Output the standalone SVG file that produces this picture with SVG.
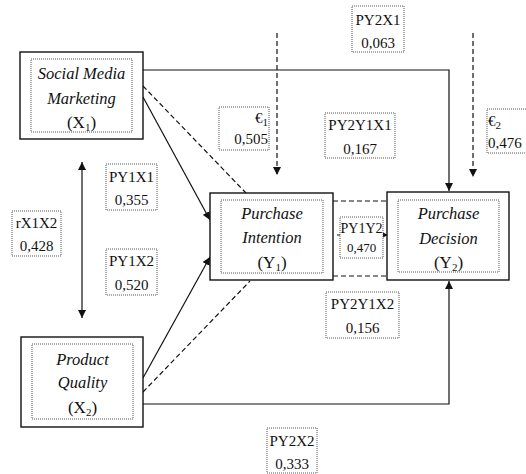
<svg xmlns="http://www.w3.org/2000/svg" width="526" height="474" viewBox="0 0 526 474">
  <style>
    .outer { fill: #fff; stroke: #111; stroke-width: 1.4; }
    .inner { fill: none; stroke: #444; stroke-width: 0.9; stroke-dasharray: 1 1; }
    .lbl { fill: #fff; stroke: #444; stroke-width: 0.9; stroke-dasharray: 1 1; }
    text { font-family: "Liberation Serif", Tinos, "Times New Roman", Times, "Noto Serif", "DejaVu Serif", FreeSerif, serif; fill: #111; text-anchor: middle; }
    .name { font-size: 16.5px; font-style: italic; }
    .var { font-size: 17px; }
    .coef { font-size: 15px; }
    .end { text-anchor: end; }
    .start { text-anchor: start; }
    .solid { fill: none; stroke: #111; stroke-width: 1.2; }
    .dash { fill: none; stroke: #111; stroke-width: 1.2; stroke-dasharray: 5 3; }
    .sub { font-size: 11px; }
  </style>
  <defs>
    <marker id="head" viewBox="0 0 10 10" refX="10" refY="5" markerWidth="8" markerHeight="8" markerUnits="userSpaceOnUse" orient="auto">
      <path d="M0,0 L10,5 L0,10 z" fill="#111"/>
    </marker>
    <marker id="tail" viewBox="0 0 10 10" refX="0" refY="5" markerWidth="8" markerHeight="8" markerUnits="userSpaceOnUse" orient="auto">
      <path d="M10,0 L0,5 L10,10 z" fill="#111"/>
    </marker>
  </defs>

  <!-- connectors -->
  <g id="connectors">
    <path class="solid" d="M143,70 H449 V191" marker-end="url(#head)"/>
    <path class="solid" d="M143,404 H449 V281" marker-end="url(#head)"/>
    <line class="solid" x1="143" y1="97" x2="210" y2="220" marker-end="url(#head)"/>
    <line class="solid" x1="143" y1="378" x2="210" y2="257" marker-end="url(#head)"/>
    <line class="dash" x1="143" y1="86" x2="246" y2="193"/>
    <line class="dash" x1="143" y1="392" x2="250" y2="281"/>
    <line class="dash" x1="333" y1="201" x2="388" y2="201"/>
    <line class="dash" x1="333" y1="276" x2="388" y2="276"/>
    <line class="solid" x1="337" y1="235" x2="388" y2="235" marker-end="url(#head)"/>
    <line class="dash" x1="277" y1="33" x2="277" y2="175" marker-end="url(#head)"/>
    <line class="dash" x1="473" y1="33" x2="473" y2="177" marker-end="url(#head)"/>
    <line class="solid" x1="82" y1="162" x2="82" y2="318" marker-start="url(#tail)" marker-end="url(#head)"/>
  </g>

  <!-- constructs -->
  <g id="x1">
    <rect class="outer" x="20" y="52" width="123" height="87"/>
    <rect class="inner" x="31" y="59" width="101" height="73"/>
    <text class="name" x="81.5" y="79">Social Media</text>
    <text class="name" x="81.5" y="104">Marketing</text>
    <text class="var" x="81.5" y="128">(X<tspan class="sub" dy="3">1</tspan><tspan dy="-3">)</tspan></text>
  </g>
  <g id="x2">
    <rect class="outer" x="21" y="337" width="122" height="90"/>
    <rect class="inner" x="32" y="344" width="101" height="75"/>
    <text class="name" x="82.5" y="365">Product</text>
    <text class="name" x="82.5" y="388">Quality</text>
    <text class="var" x="82.5" y="413">(X<tspan class="sub" dy="3">2</tspan><tspan dy="-3">)</tspan></text>
  </g>
  <g id="y1">
    <rect class="outer" x="210" y="193" width="123" height="87"/>
    <rect class="inner" x="221" y="200" width="102" height="73"/>
    <text class="name" x="272" y="219">Purchase</text>
    <text class="name" x="272" y="243">Intention</text>
    <text class="var" x="272" y="268">(Y<tspan class="sub" dy="3">1</tspan><tspan dy="-3">)</tspan></text>
  </g>
  <g id="y2">
    <rect class="outer" x="387" y="192" width="122" height="88"/>
    <rect class="inner" x="398" y="200" width="101" height="72"/>
    <text class="name" x="448.5" y="219">Purchase</text>
    <text class="name" x="448.5" y="244">Decision</text>
    <text class="var" x="448.5" y="268">(Y<tspan class="sub" dy="3">2</tspan><tspan dy="-3">)</tspan></text>
  </g>

  <!-- path coefficients -->
  <g id="py2x1">
    <rect class="lbl" x="352" y="6" width="52" height="46"/>
    <text class="coef" x="378" y="25">PY2X1</text>
    <text class="coef" x="378" y="48">0,063</text>
  </g>
  <g id="e1">
    <rect class="lbl" x="219" y="107" width="50" height="43"/>
    <text class="coef end" x="268" y="123">€<tspan class="sub" dy="3">1</tspan></text>
    <text class="coef end" x="268" y="144">0,505</text>
  </g>
  <g id="py2y1x1">
    <rect class="lbl" x="325" y="113" width="70" height="45"/>
    <text class="coef" x="360" y="130">PY2Y1X1</text>
    <text class="coef" x="360" y="154">0,167</text>
  </g>
  <g id="e2">
    <rect class="lbl" x="487" y="109" width="40" height="44"/>
    <text class="coef start" x="488" y="126">€<tspan class="sub" dy="3">2</tspan></text>
    <text class="coef start" x="488" y="148">0,476</text>
  </g>
  <g id="rx1x2">
    <rect class="lbl" x="12" y="211" width="49" height="45"/>
    <text class="coef" x="36.5" y="228">rX1X2</text>
    <text class="coef" x="36.5" y="251">0,428</text>
  </g>
  <g id="py1x1">
    <rect class="lbl" x="106" y="164" width="51" height="46"/>
    <text class="coef" x="131.5" y="182">PY1X1</text>
    <text class="coef" x="131.5" y="205">0,355</text>
  </g>
  <g id="py1x2">
    <rect class="lbl" x="106" y="249" width="51" height="46"/>
    <text class="coef" x="131.5" y="266">PY1X2</text>
    <text class="coef" x="131.5" y="290">0,520</text>
  </g>
  <g id="py1y2">
    <rect class="lbl" x="340" y="217" width="43" height="41"/>
    <text class="coef" x="361.5" y="233" style="font-size:14px">PY1Y2</text>
    <text class="coef" x="361.5" y="252" style="font-size:13px">0,470</text>
  </g>
  <g id="py2y1x2">
    <rect class="lbl" x="326" y="292" width="73" height="46"/>
    <text class="coef" x="362.5" y="309">PY2Y1X2</text>
    <text class="coef" x="362.5" y="333">0,156</text>
  </g>
  <g id="py2x2">
    <rect class="lbl" x="267" y="428" width="50" height="45"/>
    <text class="coef" x="292" y="446">PY2X2</text>
    <text class="coef" x="292" y="469">0,333</text>
  </g>
</svg>
